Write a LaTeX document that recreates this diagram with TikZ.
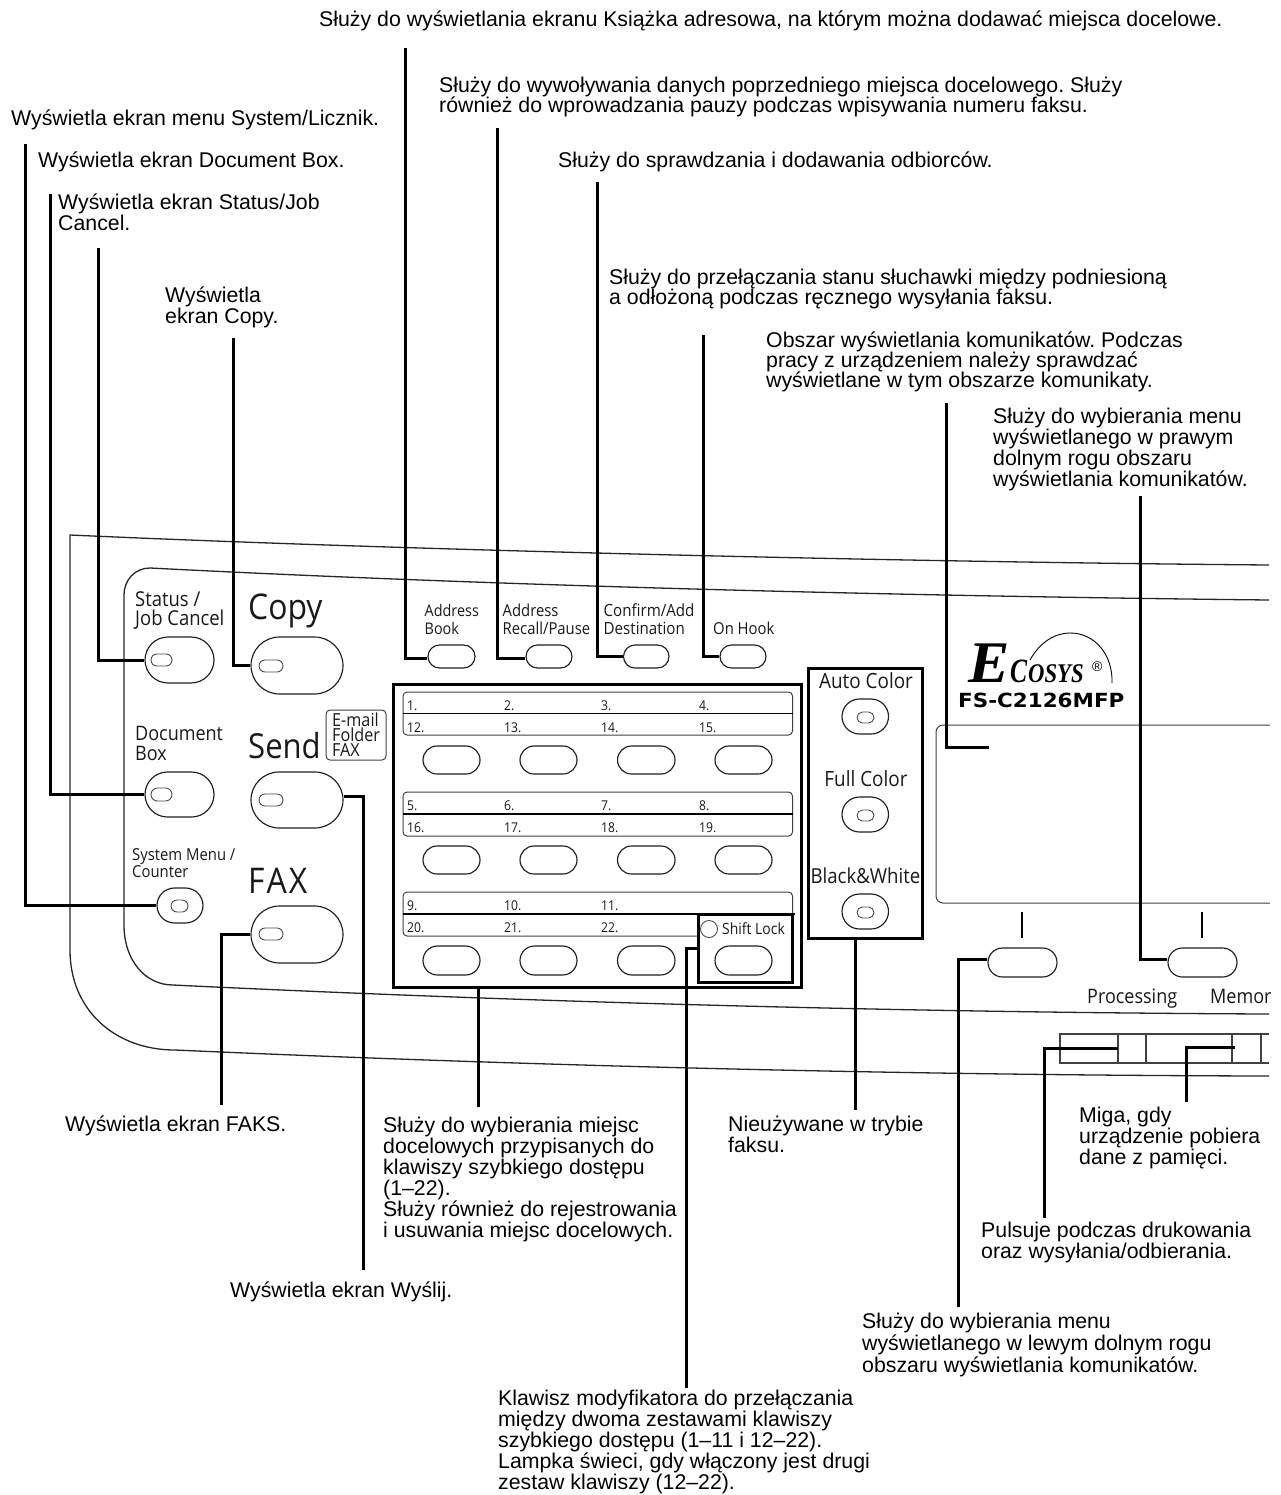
\documentclass[tikz,border=0pt]{standalone}
\usepackage{fontspec}
\usepackage{graphicx}
\setmainfont{Liberation Sans}
\newfontfamily\pf[FakeStretch=0.9]{Open Sans}
\newfontfamily\lf{Liberation Serif}
\newfontfamily\mf{DejaVu Sans}
\usetikzlibrary{shapes.misc}
\newcommand\tl[1]{\vtop{\lineskiplimit=-100pt\let\\\cr\halign{##\hfil\cr#1\crcr}}}
\newcommand\fs[2]{\fontsize{#1}{#2}\selectfont}
\newcommand\rb[6]{\node[#6,minimum width={(#4-#2)*1pt},minimum height={(#5-#3)*1pt}] (#1) at ({(#2+#4)/2},{(#3+#5)/2}) {};}
\tikzset{
  callout/.style={anchor=base west,inner sep=0pt,font=\frenchspacing\fs{21.3}{21},text=black},
  conn/.style={draw=black,line width=3pt},
  oval/.style={draw=black!88,line width=1.15pt,rounded rectangle,inner sep=0pt},
  led/.style={draw=black!70,line width=.9pt,rounded rectangle,inner sep=0pt},
  frame/.style={draw=black,line width=3pt,inner sep=0pt},
  strip/.style={draw=black!75,line width=1pt,rounded corners=4pt,inner sep=0pt},
  stripmid/.style={draw=black,line width=1.6pt},
  outline/.style={draw=black!85,line width=1.3pt},
  plab/.style={anchor=base west,inner sep=0pt,text=black!90},
  num/.style={anchor=base west,inner sep=0pt,font=\pf\fs{13.5}{14},text=black!90},
}
\begin{document}
\begin{tikzpicture}[x=1pt,y=-1pt]
\useasboundingbox (0,0) rectangle (1281,1495);
% panel outlines
\draw[outline] (1269,565) .. controls (900,562) and (400,550) .. (70,535) -- (70,950)
  .. controls (70,1010) and (115,1050) .. (175,1050) .. controls (400,1060) and (800,1075) .. (1269,1076);
\draw[outline] (1269,600) .. controls (900,596) and (500,586) .. (150,568) .. controls (135,568) and (124,580) .. (124,595) -- (124,925)
  .. controls (124,960) and (145,985) .. (173,985) .. controls (400,996) and (800,1012) .. (1269,1014);
\draw[draw=black!75,line width=1pt,rounded corners=7pt] (1300,725) -- (936,725) -- (936,903) -- (1300,903);
\fill[white] (1269.5,700) rectangle (1281,920);
\draw[draw=black!75,line width=1.1pt] (1269,1034) -- (1060,1034) -- (1060,1063) -- (1269,1063);
\foreach \x in {1118,1146,1232,1261} \draw[draw=black!75,line width=1.1pt] (\x,1034) -- (\x,1063);
% ticks
\coordinate (t1a) at (1022,912); \coordinate (t1b) at (1022,938);
\coordinate (t2a) at (1202,912); \coordinate (t2b) at (1202,938);
\draw[draw=black,line width=2.4pt] (t1a) -- (t1b);
\draw[draw=black,line width=2.4pt] (t2a) -- (t2b);
% left buttons
\rb{bStatus}{145}{637}{214}{683}{oval}
\rb{lStatus}{151}{654}{172}{666}{led}
\rb{bDoc}{145}{772}{214}{817}{oval}
\rb{lDoc}{151}{788}{172}{801}{led}
\rb{bSys}{157}{888}{203}{923}{oval}
\rb{lSys}{171}{900}{188}{912}{led}
\rb{bCopy}{251}{637}{343}{694}{oval}
\rb{lCopy}{259}{660}{283}{672}{led}
\rb{bSend}{251}{772}{343}{828}{oval}
\rb{lSend}{259}{794}{283}{806}{led}
\rb{bFax}{251}{906}{343}{963}{oval}
\rb{lFax}{259}{928}{283}{940}{led}
\node[draw=black!75,line width=1pt,rounded corners=4pt,inner sep=0pt,minimum width=60pt,minimum height=50pt] (mailbox) at (356,735) {};
% top row
\rb{bAB}{428}{645}{475}{668}{oval}
\rb{bAR}{526}{645}{572}{668}{oval}
\rb{bCA}{623.5}{645}{669}{668}{oval}
\rb{bOH}{720}{645}{766}{668}{oval}
% strips
\rb{s1}{403}{692}{792.5}{735}{strip}
\rb{s2}{403}{792}{792.5}{836}{strip}
\rb{s3}{403}{892}{792.5}{936}{strip}
\draw[stripmid] (s1.west) -- (s1.east);
\draw[stripmid] (s2.west) -- (s2.east);
\draw[stripmid] (403,914) -- (795,914);
\foreach \y/\a/\b/\c/\d in {710/1./2./3./4.,732/12./13./14./15.,810/5./6./7./8.,832/16./17./18./19.,910/9./10./11./,932/20./21./22./}{
  \node[num] at (407,\y) {\a};
  \node[num] at (504,\y) {\b};
  \node[num] at (601,\y) {\c};
  \node[num] at (699,\y) {\d};
}
% keys
\rb{k11}{423}{746}{480}{774}{oval}
\rb{k12}{520}{746}{577}{774}{oval}
\rb{k13}{617.5}{746}{675}{774}{oval}
\rb{k14}{715}{746}{772}{774}{oval}
\rb{k21}{423}{846}{480}{874}{oval}
\rb{k22}{520}{846}{577}{874}{oval}
\rb{k23}{617.5}{846}{675}{874}{oval}
\rb{k24}{715}{846}{772}{874}{oval}
\rb{k31}{423}{946}{480}{975}{oval}
\rb{k32}{520}{946}{577}{975}{oval}
\rb{k33}{617.5}{946}{675}{975}{oval}
% frames
\rb{fKeys}{393.5}{684}{801}{987}{frame}
\node[frame,fill=white,minimum width=94.5pt,minimum height=68pt] (fShift) at (745.25,948) {};
\rb{k34}{715}{946}{772}{975}{oval}
\node[draw=black!70,line width=.9pt,circle,inner sep=0pt,minimum size=17pt] (lShift) at (709,929) {};
\rb{fCol}{808}{668}{922}{938}{frame}
% colour buttons
\rb{bAuto}{842}{699}{888.5}{734}{oval}
\rb{lAuto}{857}{712}{874}{723}{led}
\rb{bFull}{842}{797}{888.5}{832}{oval}
\rb{lFull}{857}{810}{874}{821}{led}
\rb{bBW}{842}{894}{888.5}{929}{oval}
\rb{lBW}{857}{907}{874}{918}{led}
% soft keys
\rb{bSoftL}{988}{948}{1057}{977}{oval}
\rb{bSoftR}{1168}{948}{1237}{977}{oval}
% panel labels
\node[plab,font=\pf\fs{20.5}{19}] (pStatus) at (135,606) {\tl{Status /\\Job Cancel}};
\node[plab,font=\pf\fs{20}{20}] (pDoc) at (135,740) {\tl{Document\\Box}};
\node[plab,font=\pf\fs{16.5}{17}] (pSys) at (132,860) {\tl{System Menu /\\Counter}};
\node[plab,font=\pf\fs{35.4}{33}] (pCopy) at (248,619) {Copy};
\node[plab,font=\pf\fs{34.5}{33}] (pSend) at (248,758) {Send};
\node[plab,font=\pf\fs{35.4}{33}] (pFax) at (248,893) {F\kern2ptA\kern2ptX};
\node[plab,font=\pf\fs{18}{15}] (pMail) at (332,726) {\tl{E-mail\\Folder\\FAX}};
\node[plab,font=\pf\fs{16}{18}] (pAB) at (424.5,616) {\tl{Address\\Book}};
\node[plab,font=\pf\fs{16.5}{18}] (pAR) at (502.5,616) {\tl{Address\\Recall/Pause}};
\node[plab,font=\pf\fs{16.8}{18}] (pCA) at (603.5,616) {\tl{Confirm/Add\\Destination}};
\node[plab,font=\pf\fs{16.5}{18}] (pOH) at (713,634) {On Hook};
\node[plab,font=\pf\fs{15.5}{15}] (pShift) at (722,934.5) {Shift Lock};
\node[inner sep=0pt,anchor=base,font=\pf\fs{21}{20},text=black!90] (pAuto) at (866,688) {Auto Color};
\node[inner sep=0pt,anchor=base,font=\pf\fs{21}{20},text=black!90] (pFull) at (866,786) {Full Color};
\node[inner sep=0pt,anchor=base,font=\pf\fs{20.7}{20},text=black!90] (pBW) at (865.5,883) {Black\&White};
\node[plab,font=\pf\fs{20}{18}] (pProc) at (1087,1003) {Processing};
\node[plab,font=\pf\fs{20}{18}] (pMem) at (1210,1003) {Memor};
% logo
\node[inner sep=0pt,anchor=base west,font=\lf\bfseries\itshape\fs{59}{59}] (logoE) at (968,682) {\scalebox{1.05}[1]{E}};
\node[inner sep=0pt,anchor=base west,font=\lf\bfseries\itshape\fs{34}{34}] (logoC) at (1010,682) {\scalebox{.75}[1]{C}};
\node[inner sep=0pt,anchor=base west,font=\lf\bfseries\itshape\fs{27}{27}] (logoO) at (1028,682) {\scalebox{.84}[1]{OSYS}};
\node[inner sep=0pt,anchor=base west,font=\fs{14}{14}] (logoR) at (1092,671) {®};
\draw[draw=black,line width=.9pt] (1030,660) .. controls (1040,642) and (1055,633) .. (1070,633) .. controls (1095,633) and (1113,655) .. (1112,683);
\node[inner sep=0pt,anchor=base west,font=\mf\bfseries\fs{19.5}{19}] (logoM) at (958,707) {\scalebox{1.1}[1]{FS-C2126MFP}};
% callout texts
\node[callout] (t1) at (319,27) {Służy do wyświetlania ekranu Książka adresowa, na którym można dodawać miejsca docelowe.};
\node[callout,font=\frenchspacing\fs{21.3}{20}] (t2) at (439,93) {\tl{Służy do wywoływania danych poprzedniego miejsca docelowego. Służy\\również do wprowadzania pauzy podczas wpisywania numeru faksu.}};
\node[callout] (t3) at (11,126) {Wyświetla ekran menu System/Licznik.};
\node[callout] (t4) at (558,168) {Służy do sprawdzania i dodawania odbiorców.};
\node[callout] (t5) at (38,168) {Wyświetla ekran Document Box.};
\node[callout] (t6) at (58,210) {\tl{Wyświetla ekran Status/Job\\Cancel.}};
\node[callout] (t7) at (165,302) {\tl{Wyświetla\\ekran Copy.}};
\node[callout,font=\frenchspacing\fs{21.3}{20}] (t8) at (609,285) {\tl{Służy do przełączania stanu słuchawki między podniesioną\\a odłożoną podczas ręcznego wysyłania faksu.}};
\node[callout,font=\frenchspacing\fs{21.3}{20}] (t9) at (766,347) {\tl{Obszar wyświetlania komunikatów. Podczas\\pracy z urządzeniem należy sprawdzać\\wyświetlane w tym obszarze komunikaty.}};
\node[callout] (t10) at (993,423) {\tl{Służy do wybierania menu\\wyświetlanego w prawym\\dolnym rogu obszaru\\wyświetlania komunikatów.}};
\node[callout] (t11) at (65,1131) {Wyświetla ekran FAKS.};
\node[callout] (t12) at (383,1132) {\tl{Służy do wybierania miejsc\\docelowych przypisanych do\\klawiszy szybkiego dostępu\\(1–22).\\Służy również do rejestrowania\\i usuwania miejsc docelowych.}};
\node[callout] (t13) at (728,1131) {\tl{Nieużywane w trybie\\faksu.}};
\node[callout] (t14) at (1079,1122) {\tl{Miga, gdy\\urządzenie pobiera\\dane z pamięci.}};
\node[callout] (t15) at (981,1237) {\tl{Pulsuje podczas drukowania\\oraz wysyłania/odbierania.}};
\node[callout] (t16) at (230,1297) {Wyświetla ekran Wyślij.};
\node[callout,font=\frenchspacing\fs{21.3}{22}] (t17) at (862,1328) {\tl{Służy do wybierania menu\\wyświetlanego w lewym dolnym rogu\\obszaru wyświetlania komunikatów.}};
\node[callout] (t18) at (498,1405) {\tl{Klawisz modyfikatora do przełączania\\między dwoma zestawami klawiszy\\szybkiego dostępu (1–11 i 12–22).\\Lampka świeci, gdy włączony jest drugi\\zestaw klawiszy (12–22).}};
% connector free ends
\coordinate (cAB) at (405,48);
\coordinate (cAR) at (497,128);
\coordinate (cCA) at (597,182);
\coordinate (cOH) at (703,335);
\coordinate (cSys) at (25,144);
\coordinate (cDoc) at (50,194);
\coordinate (cStatus) at (98,248);
\coordinate (cCopy) at (233,338);
\coordinate (cLCD) at (946,403);
\coordinate (cLCDe) at (989,747);
\coordinate (cSR) at (1140,496);
\coordinate (cFax) at (221,1105);
\coordinate (cSend) at (363,1270);
\coordinate (cKeys) at (478,1107);
\coordinate (cShift) at (686.5,1388);
\coordinate (cCol) at (855,1110);
\coordinate (cSL) at (958,1307);
\coordinate (cProc) at (1044,1218);
\coordinate (cProcE) at (1118,1048);
\coordinate (cMem) at (1186,1102);
\coordinate (cMemE) at (1235,1047);
% connectors
\draw[conn] (cAB) |- ([yshift=-1.5pt]bAB.west);
\draw[conn] (cAR) |- ([yshift=-1.5pt]bAR.west);
\draw[conn] (cCA) |- (bCA.west);
\draw[conn] (cOH) |- (bOH.west);
\draw[conn] (cSys) |- (bSys.west);
\draw[conn] (cDoc) |- (bDoc.west);
\draw[conn] (cStatus) |- (bStatus.west);
\draw[conn] (cCopy) |- (bCopy.west);
\draw[conn] (cLCD) |- (cLCDe);
\draw[conn] (cSR) |- ([yshift=3.5pt]bSoftR.west);
\draw[conn] (cFax) |- (bFax.west);
\draw[conn] (cSend) |- ([yshift=4pt]bSend.east);
\draw[conn] (cKeys) -- (cKeys |- fKeys.south);
\draw[conn] (cShift) |- (fShift.west);
\draw[conn] (cCol) -- (cCol |- fCol.south);
\draw[conn] (cSL) |- ([yshift=3.5pt]bSoftL.west);
\draw[conn] (cProc) |- (cProcE);
\draw[conn] (cMem) |- (cMemE);
\end{tikzpicture}
\end{document}
